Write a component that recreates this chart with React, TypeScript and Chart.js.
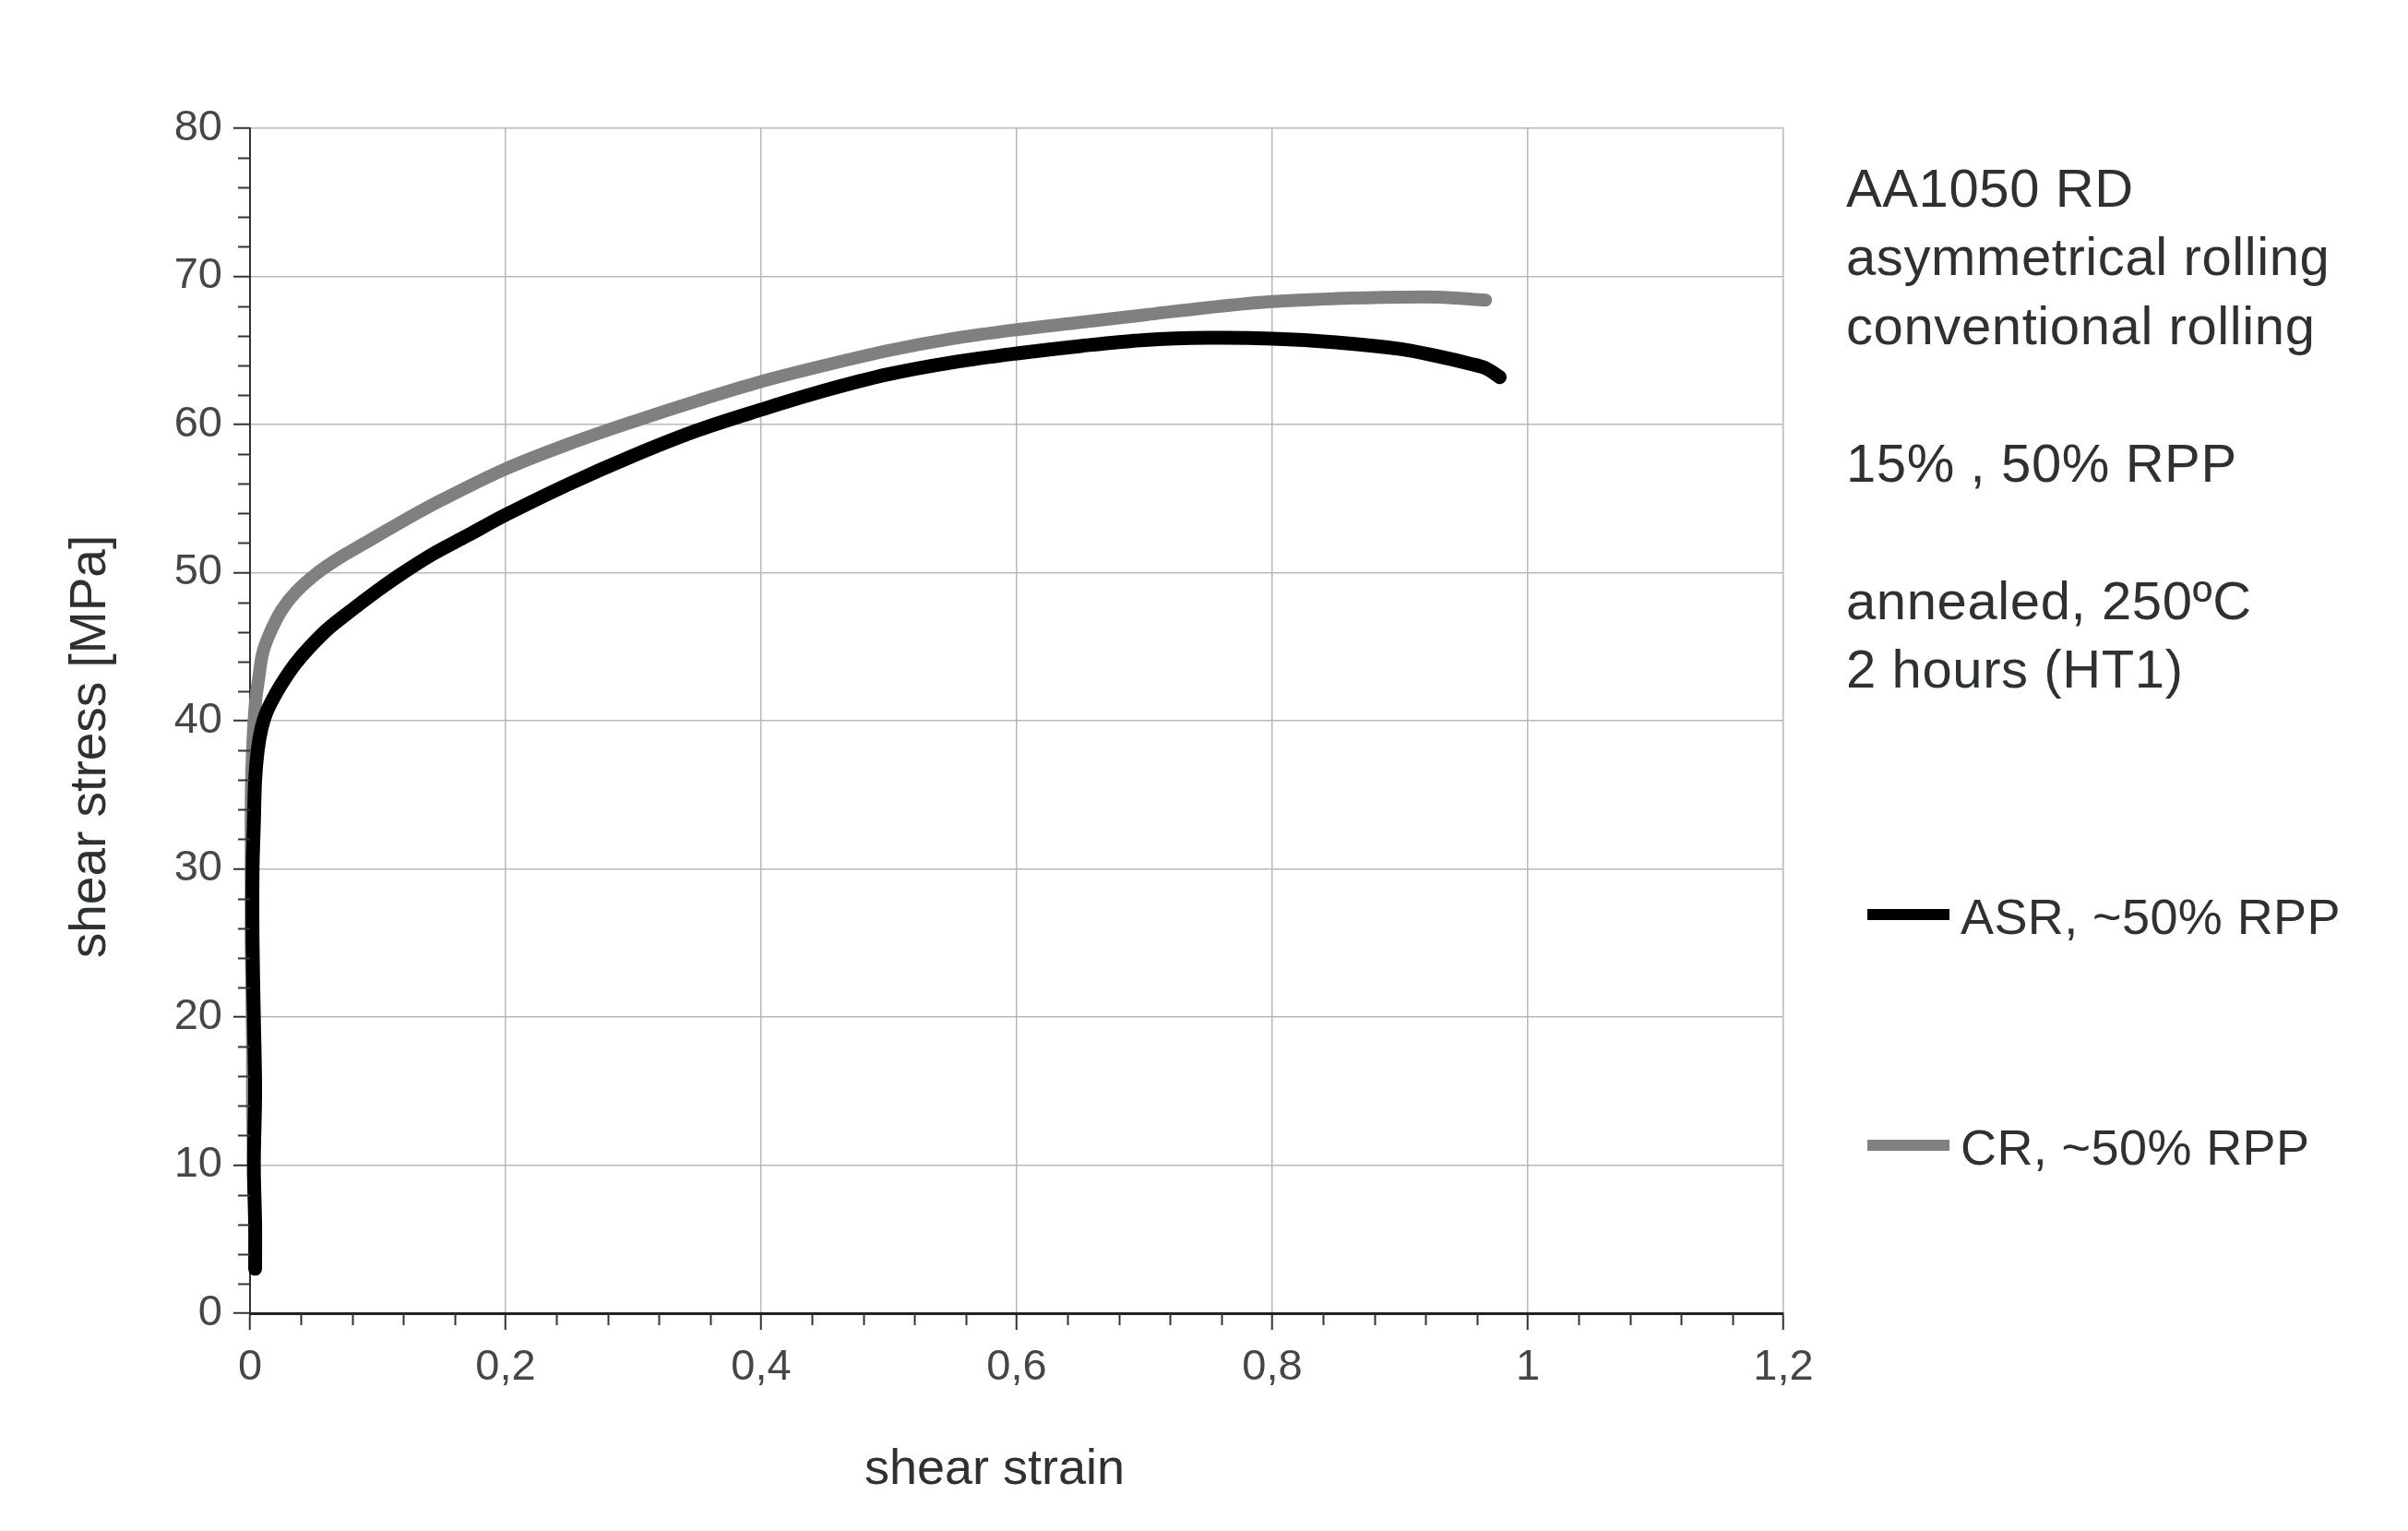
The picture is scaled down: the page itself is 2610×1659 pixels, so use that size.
import React, { useEffect, useRef } from 'react';
import { Chart, registerables } from 'chart.js';

Chart.register(...registerables);

// ASR, ~50% RPP (black)
const strainASR = [0.004, 0.004, 0.003, 0.004, 0.003, 0.002, 0.002, 0.003, 0.004, 0.006, 0.009, 0.013, 0.02, 0.027, 0.036, 0.047, 0.061, 0.08, 0.1, 0.12, 0.144, 0.17, 0.2, 0.25, 0.3, 0.35, 0.4, 0.45, 0.5, 0.55, 0.6, 0.65, 0.7, 0.75, 0.8, 0.85, 0.9, 0.93, 0.955, 0.967, 0.978];
const stressASR = [3, 6, 10, 15, 20, 25, 30, 33, 36, 38, 39.5, 40.6, 41.8, 42.8, 43.9, 45, 46.2, 47.5, 48.8, 50, 51.3, 52.5, 53.9, 56, 57.9, 59.6, 61.0, 62.3, 63.4, 64.2, 64.8, 65.3, 65.7, 65.85, 65.8, 65.55, 65.1, 64.6, 64.1, 63.8, 63.2];

// CR, ~50% RPP (grey)
const strainCR = [0.003, 0.002, 0.002, 0.001, 0.001, 0.001, 0.002, 0.004, 0.007, 0.01, 0.016, 0.025, 0.036, 0.053, 0.07, 0.09, 0.12, 0.15, 0.2, 0.25, 0.3, 0.35, 0.4, 0.45, 0.5, 0.55, 0.6, 0.65, 0.7, 0.75, 0.8, 0.85, 0.9, 0.93, 0.967];
const stressCR = [10, 14, 18, 25, 30, 35, 38, 41, 43, 44.6, 46, 47.5, 48.7, 50, 51, 52, 53.5, 54.9, 57.0, 58.7, 60.2, 61.6, 62.9, 64.0, 65.0, 65.8, 66.4, 66.9, 67.4, 67.9, 68.3, 68.5, 68.6, 68.6, 68.4];

const seriesLabels = ['ASR, ~50% RPP', 'CR, ~50% RPP'];
const seriesColors = ['#000000', '#808080'];
const annotationLines = ['AA1050 RD', 'asymmetrical rolling', 'conventional rolling', '', '15% , 50% RPP', '', 'annealed, 250ºC', '2 hours (HT1)'];
const xTitle = 'shear strain';
const yTitle = 'shear stress [MPa]';

const FONT = '"Liberation Sans", Arial, Helvetica, sans-serif';
const TEXT = '#2e3134';

const minorTicks = {
  id: 'minorTicks',
  afterDraw(chart: any) {
    const { ctx } = chart;
    const x = chart.scales.x;
    const y = chart.scales.y;
    ctx.save();
    ctx.strokeStyle = '#333';
    ctx.lineWidth = 2;
    for (let i = 0; i <= 40; i++) {
      if (i % 5 === 0) continue;
      const py = Math.round(y.getPixelForValue(i * 2)) + 0.5;
      ctx.beginPath();
      ctx.moveTo(x.left - 13, py);
      ctx.lineTo(x.left, py);
      ctx.stroke();
    }
    for (let i = 0; i <= 30; i++) {
      if (i % 5 === 0) continue;
      const px = Math.round(x.getPixelForValue(i * 0.04)) + 0.5;
      ctx.beginPath();
      ctx.moveTo(px, y.bottom);
      ctx.lineTo(px, y.bottom + 13);
      ctx.stroke();
    }
    ctx.restore();
  },
};

function fmt(v: number) {
  const r = Math.round(v * 10) / 10;
  if (Number.isInteger(r)) return String(r);
  return r.toFixed(1).replace('.', ',');
}

export default function App() {
  const ref = useRef<HTMLCanvasElement>(null);
  useEffect(() => {
    document.body.style.margin = '0';
    const chart = new Chart(ref.current as HTMLCanvasElement, {
      type: 'line',
      data: {
        datasets: [
          {
            label: seriesLabels[0],
            data: strainASR.map((v, i) => ({ x: v, y: stressASR[i] })),
            borderColor: seriesColors[0],
            backgroundColor: seriesColors[0],
            borderWidth: 15,
            pointRadius: 0,
            tension: 0.35,
            borderCapStyle: 'round',
            borderJoinStyle: 'round',
            clip: 20,
          } as any,
          {
            label: seriesLabels[1],
            data: strainCR.map((v, i) => ({ x: v, y: stressCR[i] })),
            borderColor: seriesColors[1],
            backgroundColor: seriesColors[1],
            borderWidth: 14,
            pointRadius: 0,
            tension: 0.35,
            borderCapStyle: 'round',
            borderJoinStyle: 'round',
            clip: 20,
          } as any,
        ],
      },
      options: {
        responsive: false,
        animation: false,
        devicePixelRatio: 1,
        layout: { padding: { left: 0, top: 139, right: 677, bottom: 0 } },
        plugins: { legend: { display: false }, tooltip: { enabled: false } },
        scales: {
          x: {
            type: 'linear',
            min: 0,
            max: 1.2,
            afterFit: (s: any) => { s.height = 236; },
            ticks: {
              stepSize: 0.2,
              padding: 13,
              color: '#43474b',
              font: { family: FONT, size: 47 },
              callback: (v: any) => fmt(Number(v)),
              maxRotation: 0,
              autoSkip: false,
            },
            grid: { color: '#b8b8b8', lineWidth: 1.5, tickLength: 18, tickColor: '#333', tickWidth: 2 },
            border: { color: '#222', width: 3 },
          },
          y: {
            type: 'linear',
            min: 0,
            max: 80,
            afterFit: (s: any) => { s.width = 271; },
            ticks: {
              stepSize: 10,
              padding: 12,
              color: '#43474b',
              font: { family: FONT, size: 47 },
            },
            grid: { color: '#b8b8b8', lineWidth: 1.5, tickLength: 18, tickColor: '#333', tickWidth: 2 },
            border: { color: '#333', width: 2 },
          },
        },
      },
      plugins: [minorTicks],
    });
    return () => chart.destroy();
  }, []);

  const annF = 58;
  const annL = 74.5;
  const legF = 54;

  return (
    <div style={{ position: 'relative', width: 2610, height: 1659, background: '#fff', fontFamily: FONT, color: TEXT, overflow: 'hidden' }}>
      <canvas ref={ref} width={2610} height={1659} style={{ position: 'absolute', left: 0, top: 0 }} />
      {/* y axis title */}
      <div style={{ position: 'absolute', left: 95 - 400, top: 809 - 36, width: 800, height: 72, lineHeight: '72px', fontSize: 55, textAlign: 'center', transform: 'rotate(-90deg)', whiteSpace: 'nowrap', color: TEXT }}>{yTitle}</div>
      {/* x axis title */}
      <div style={{ position: 'absolute', left: 1078 - 300, top: 1608 - (32 + 0.3465 * 54), width: 600, height: 64, lineHeight: '64px', fontSize: 54, textAlign: 'center', whiteSpace: 'nowrap', color: TEXT }}>{xTitle}</div>
      {/* annotation */}
      <div style={{ position: 'absolute', left: 2001, top: 224 - (annL / 2 + 0.3465 * annF), fontSize: annF, lineHeight: annL + 'px', letterSpacing: 0.6, whiteSpace: 'nowrap', color: TEXT }}>
        {annotationLines.map((t, i) => (
          <div key={i} style={{ height: annL }}>{t}</div>
        ))}
      </div>
      {/* legend */}
      {seriesLabels.map((t, i) => (
        <div key={t}>
          <div style={{ position: 'absolute', left: 2024, top: 985 + i * 250, width: 89, height: 12, background: seriesColors[i] }} />
          <div style={{ position: 'absolute', left: 2125, top: 1012 + i * 250 - (30 + 0.3465 * legF), height: 60, lineHeight: '60px', fontSize: legF, letterSpacing: 0.4, whiteSpace: 'nowrap', color: TEXT }}>{t}</div>
        </div>
      ))}
    </div>
  );
}
